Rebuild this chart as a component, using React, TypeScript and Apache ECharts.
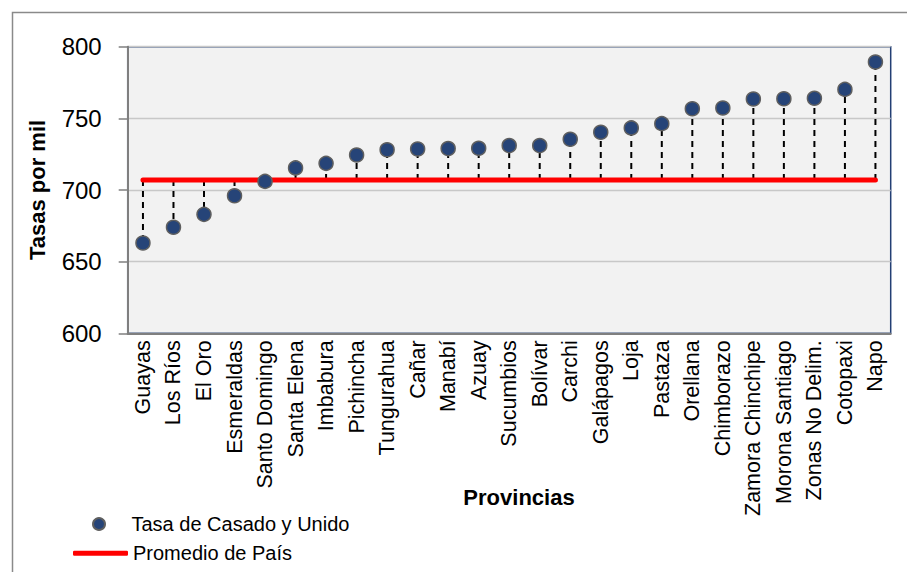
import React, { useEffect, useRef } from "react";
import * as echarts from "echarts";

const categories = [
  "Guayas", "Los Ríos", "El Oro", "Esmeraldas", "Santo Domingo", "Santa Elena",
  "Imbabura", "Pichincha", "Tungurahua", "Cañar", "Manabí", "Azuay",
  "Sucumbios", "Bolívar", "Carchi", "Galápagos", "Loja", "Pastaza",
  "Orellana", "Chimborazo", "Zamora Chinchipe", "Morona Santiago", "Zonas No Delim.", "Cotopaxi", "Napo",
];

const rates = [
  663, 674, 683, 696, 706, 715.4, 718.6, 724.4, 728.1, 728.6, 728.9, 729.1,
  731, 731, 735.4, 740.3, 743.3, 746.3, 756.7, 757.2, 763.5, 763.7, 764, 770.2, 789.3,
];

const nationalAverage = 707;
const averageLine = categories.map(() => nationalAverage);

const yTicks = { min: 600, max: 800, interval: 50 };

const FONT = "'Liberation Sans', Arial, sans-serif";

export default function App() {
  const ref = useRef<HTMLDivElement>(null);
  useEffect(() => {
    if (!ref.current) return;
    const chart = echarts.init(ref.current, null, { renderer: "svg" });
    const legendText = { fontFamily: FONT, fontSize: 20, color: "#000", lineHeight: 20 };
    chart.setOption({
      animation: false,
      backgroundColor: "#ffffff",
      textStyle: { fontFamily: FONT },
      grid: {
        left: 127.7,
        top: 46.7,
        right: 16.3,
        bottom: 238.7,
        show: true,
        backgroundColor: "#f2f2f2",
        borderColor: "#233f74",
        borderWidth: 1.5,
      },
      graphic: [
        {
          type: "rect",
          z: -10,
          shape: { x: 12.5, y: 12.5, width: 1000, height: 1000 },
          style: { fill: "none", stroke: "#8a8a8a", lineWidth: 1.5 },
          silent: true,
        },
        {
          type: "text",
          x: 37,
          y: 190,
          rotation: Math.PI / 2,
          style: {
            text: "Tasas por mil",
            fontFamily: FONT,
            fontSize: 22,
            fontWeight: "bold",
            fill: "#000",
            align: "center",
            verticalAlign: "middle",
          },
        },
        {
          type: "text",
          x: 519,
          y: 497,
          style: {
            text: "Provincias",
            fontFamily: FONT,
            fontSize: 22,
            fontWeight: "bold",
            fill: "#000",
            align: "center",
            verticalAlign: "middle",
          },
        },
      ],
      legend: [
        {
          orient: "vertical",
          left: 92,
          top: 514,
          padding: 0,
          itemWidth: 55,
          itemHeight: 12,
          textStyle: legendText,
          data: [{ name: "Tasa de Casado y Unido", icon: "circle" }],
        },
        {
          orient: "vertical",
          left: 73,
          top: 543.3,
          padding: 0,
          itemWidth: 55,
          itemHeight: 5,
          textStyle: legendText,
          data: [{ name: "Promedio de País", icon: "roundRect" }],
        },
      ],
      xAxis: {
        type: "category",
        data: categories,
        boundaryGap: true,
        axisLine: { show: true, lineStyle: { color: "#7f7f7f", width: 2 } },
        axisTick: { show: false },
        axisLabel: {
          rotate: 90,
          interval: 0,
          margin: 7,
          fontFamily: FONT,
          fontSize: 21.5,
          color: "#000",
        },
        splitLine: { show: false },
      },
      yAxis: {
        type: "value",
        min: yTicks.min,
        max: yTicks.max,
        interval: yTicks.interval,
        axisLine: { show: true, lineStyle: { color: "#7f7f7f", width: 2 } },
        axisTick: { show: true, length: 9, inside: false, lineStyle: { color: "#7f7f7f", width: 1.5 } },
        axisLabel: { margin: 26, fontFamily: FONT, fontSize: 24, color: "#000" },
        splitLine: { show: true, lineStyle: { color: "#c8c8c8", width: 1.3 } },
      },
      series: [
        {
          type: "custom",
          name: "drops",
          z: 2,
          silent: true,
          data: categories.map((c, i) => [i, rates[i], nationalAverage]),
          encode: { x: 0, y: 1 },
          renderItem: (params: any, api: any) => {
            const p1 = api.coord([api.value(0), api.value(2)]);
            const p2 = api.coord([api.value(0), api.value(1)]);
            return {
              type: "line",
              shape: { x1: p1[0], y1: p1[1], x2: p2[0], y2: p2[1] },
              style: { stroke: "#000", lineWidth: 2, lineDash: [6, 5] },
            };
          },
        },
        {
          type: "line",
          name: "Promedio de País",
          data: averageLine,
          symbol: "none",
          z: 3,
          lineStyle: { color: "#ff0000", width: 5, cap: "round" },
          itemStyle: { color: "#ff0000" },
        },
        {
          type: "scatter",
          name: "Tasa de Casado y Unido",
          data: rates,
          symbol: "circle",
          symbolSize: 14,
          z: 4,
          itemStyle: { color: "#264478", borderColor: "#5f5f5f", borderWidth: 1.5, opacity: 1 },
        },
      ],
    });
    return () => chart.dispose();
  }, []);
  return (
    <div
      ref={ref}
      style={{ position: "fixed", left: 0, top: 0, width: 907, height: 572 }}
    />
  );
}
